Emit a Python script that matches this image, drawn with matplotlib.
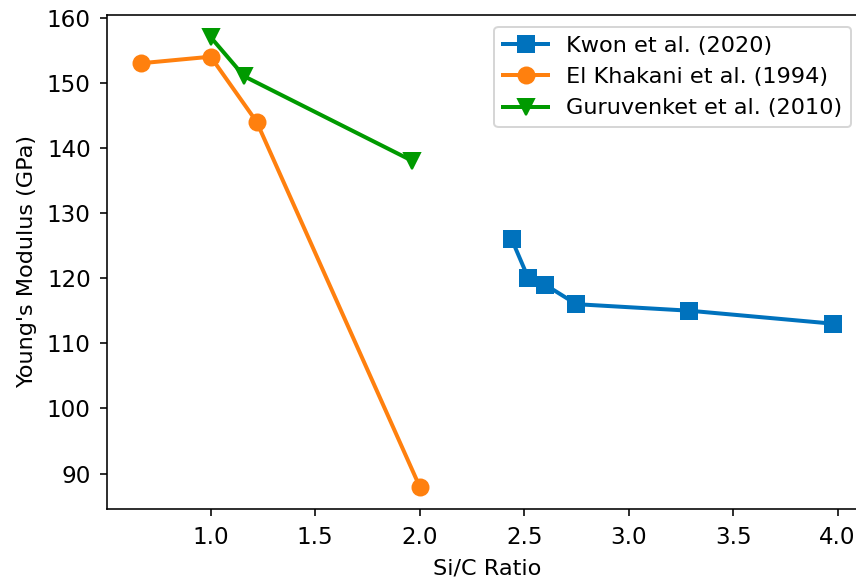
import matplotlib
matplotlib.use("Agg")
import matplotlib.pyplot as plt

# Young's modulus vs. Si/C ratio from three studies
kwon_x = [2.44, 2.52, 2.60, 2.75, 3.29, 3.98]
kwon_y = [126, 120, 119, 116, 115, 113]

khakani_x = [0.668, 1.0, 1.22, 2.0]
khakani_y = [153, 154, 144, 88]

guru_x = [1.0, 1.16, 1.965]
guru_y = [157, 151, 138]

labels = ["Kwon et al. (2020)", "El Khakani et al. (1994)", "Guruvenket et al. (2010)"]
colors = ["#0072BD", "#FF800E", "#009A00"]

plt.rcParams["font.size"] = 11.2
plt.rcParams["xtick.labelsize"] = 11.5
plt.rcParams["ytick.labelsize"] = 11.5
plt.rcParams["xtick.major.pad"] = 5
plt.rcParams["ytick.major.pad"] = 4.5

fig = plt.figure(figsize=(856 / 144, 578 / 144), dpi=144)
ax = fig.add_axes([106.7 / 856, (578 - 509) / 578, (868 - 106.7) / 856, (509 - 14.7) / 578])

ax.plot(kwon_x, kwon_y, marker="s", markersize=8, linewidth=2, color=colors[0], label=labels[0])
ax.plot(khakani_x, khakani_y, marker="o", markersize=8, linewidth=2, color=colors[1], label=labels[1])
ax.plot(guru_x, guru_y, marker="v", markersize=8, linewidth=2, color=colors[2], label=labels[2])

ax.set_xticks([1.0, 1.5, 2.0, 2.5, 3.0, 3.5, 4.0])
ax.set_yticks([90, 100, 110, 120, 130, 140, 150, 160])
ax.set_xlabel("Si/C Ratio", labelpad=5)
ax.set_ylabel("Young's Modulus (GPa)", labelpad=5)
ax.legend(loc="upper right", bbox_to_anchor=(851 / 856, 1 - 27 / 578),
          bbox_transform=fig.transFigure, borderaxespad=0)

fig.savefig("out.png", dpi=144)
